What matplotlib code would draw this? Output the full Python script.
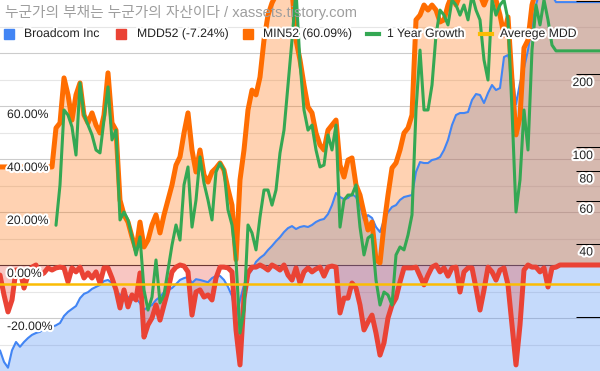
import numpy as np
import matplotlib
matplotlib.use("Agg")
import matplotlib.pyplot as plt
import matplotlib.patheffects as pe
from matplotlib.transforms import blended_transform_factory, offset_copy
from matplotlib.patches import Rectangle
from matplotlib.lines import Line2D
from matplotlib.ticker import NullLocator

nan = np.nan

title = "누군가의 부채는 누군가의 자산이다 / xassets.tistory.com"
series_names = ["Broadcom Inc", "MDD52 (-7.24%)", "MIN52 (60.09%)", "1 Year Growth", "Averege MDD"]

# Broadcom price (right, log axis)
broadcom = [
    14.5, 13.0, 12.3, 14.5, 15.7, 15.0, 15.7, 16.3, 16.8, 17.1,
    17.3, 17.9, 17.6, 18.1, 18.4, 18.8, 20.1, 20.9, 21.5, 22.1,
    23.8, 24.8, 25.2, 26.0, 26.5, 27.0, 28.0, 28.3, 27.5, 25.7,
    24.5, 25.0, 24.1, 23.4, 23.8, 22.7, 21.3, 21.9, 22.3, 23.4,
    24.1, 25.2, 25.7, 26.2, 27.2, 28.3, 28.8, 29.1, 27.5, 28.5,
    28.3, 28.0, 27.7, 28.8, 29.4, 29.4, 28.3, 26.5, 24.3, 19.7,
    23.4, 27.0, 29.7, 31.1, 33.6, 34.9, 35.9, 37.6, 39.1, 40.9,
    42.5, 44.6, 46.3, 47.2, 45.9, 46.8, 47.2, 46.8, 47.7, 49.1,
    50.0, 50.5, 52.9, 57.6, 64.6, 62.2, 61.0, 61.6, 64.0, 62.2,
    57.6, 50.0, 52.4, 51.0, 46.8, 44.6, 50.0, 53.9, 56.6, 57.6,
    60.5, 62.2, 62.8, 63.4, 78.9, 86.7, 85.9, 85.9, 88.4, 89.2,
    90.9, 97.2, 106.9, 123.2, 135.5, 138.1, 138.1, 139.4, 156.3, 165.4,
    163.9, 151.9, 167.0, 180.2, 171.8, 175.1, 235.1, 239.6, 207.7, 150.0,
    183.7, 211.7, 251.2, 318.7, 385.2, 444.0, 465.0, 444.0, 423.0, 396.0,
    396.0, 396.0, 396.0, 396.0, 396.0, 396.0, 396.0, 396.0, 396.0, 396.0,
    396.0,
]

# MDD52 (%)
mdd52 = [
    -3.8, -11.3, -17.7, -13.2, -1.9, -1.9, -8.7, -3.8, -0.8, 0.0,
    -3.8, -3.0, -1.1, -1.9, -1.1, -0.8, -1.1, -6.4, -1.1, -2.6,
    -0.8, -4.9, -3.0, -4.9, -2.6, -6.8, -1.1, -1.1, -4.9, -9.4,
    -16.2, -9.4, -15.8, -11.3, -13.2, -3.0, -27.2, -22.6, -20.0, -15.1,
    -20.8, -15.1, -9.4, -2.6, -0.8, 0.0, -0.4, -2.6, -18.9, -10.2,
    -9.4, -12.1, -11.3, -13.2, -4.9, -0.8, -0.8, -1.1, -2.6, -24.5,
    -37.7, -12.5, -3.0, -0.8, -0.8, 0.0, -0.8, -1.9, 0.0, -0.8,
    -1.9, 0.0, -3.8, -5.7, -1.1, -6.8, -2.6, -1.1, -2.6, -1.5,
    -0.8, -4.2, -0.8, -0.4, -0.8, -18.1, -12.5, -12.5, -6.8, -8.7,
    -15.1, -24.5, -21.5, -18.9, -25.7, -34.0, -29.4, -20.0, -15.1, -12.5,
    -6.4, -1.1, -1.1, -1.1, -0.8, -4.2, -7.5, -3.8, -0.8, 0.0,
    -2.6, -1.1, -4.2, -1.1, -0.8, -10.2, -2.6, -1.1, -1.1, -8.7,
    -17.0, -9.4, -0.8, -2.6, -5.7, -1.9, -1.1, -7.5, -22.6, -37.7,
    -22.6, -1.9, 0.0, -0.8, -0.8, -2.6, -1.1, -8.3, -1.1, -0.8,
    0.0, 0.0, 0.0, 0.0, 0.0, 0.0, 0.0, 0.0, 0.0, 0.0,
    0.0,
]

# MIN52 (%)
min52 = [
    37.0, 37.0, 37.0, 37.0, 37.0, 37.0, 37.0, 37.0, 37.0, 37.0,
    37.0, 37.0, 37.0, 37.0, 51.7, 53.6, 70.6, 64.2, 54.7, 64.2,
    68.7, 56.6, 53.6, 57.4, 52.8, 49.8, 56.6, 72.5, 53.6, 50.9,
    24.5, 18.9, 16.2, 10.6, 5.7, 16.2, 6.8, 9.4, 15.1, 18.9,
    12.1, 18.9, 24.5, 30.2, 37.7, 40.8, 49.8, 57.4, 43.4, 35.1,
    43.4, 34.0, 31.3, 35.1, 36.6, 38.5, 35.8, 28.7, 22.6, 2.0,
    32.1, 43.4, 58.5, 66.0, 64.2, 70.9, 84.9, 94.3, 98.9, 101.9,
    103.8, 105.7, 105.7, 103.8, 84.9, 77.4, 67.9, 59.6, 57.4, 49.8,
    45.3, 43.4, 50.9, 52.8, 54.7, 37.7, 33.2, 39.6, 40.4, 30.2,
    26.4, 19.6, 13.2, 16.2, 1.9, 0.8, 15.1, 26.4, 36.6, 38.5,
    43.4, 49.8, 51.7, 56.6, 92.5, 94.3, 98.1, 96.2, 98.1, 96.2,
    91.7, 92.5, 98.1, 101.9, 98.1, 101.9, 103.8, 103.8, 103.8, 103.8,
    101.9, 98.1, 101.9, 101.9, 100.0, 94.3, 86.8, 93.6, 69.8, 49.1,
    55.8, 81.9, 84.9, 98.1, 103.8, 107.5, 107.5, 107.5, 107.5, 107.5,
    107.5, 107.5, 107.5, 107.5, 107.5, 107.5, 107.5, 107.5, 107.5, 107.5,
    107.5,
]

# 1 Year Growth (%)
growth_1y = [
    nan, nan, nan, nan, nan, nan, nan, nan, nan, nan,
    nan, nan, nan, nan, 15.0, 30.2, 58.5, 56.6, 52.1, 41.5,
    68.7, 56.6, 52.8, 49.1, 43.4, 42.3, 54.7, 67.2, 47.2, 50.9,
    17.0, 20.0, 17.0, 10.6, 3.8, 10.6, -9.4, -17.0, -12.1, 1.9,
    -14.3, -11.3, -1.9, 7.5, 15.1, 9.4, 30.2, 37.0, 14.3, 24.5,
    40.8, 30.9, 24.5, 17.0, 35.1, 38.5, 35.8, 20.8, 15.1, 1.9,
    -25.7, -17.0, 15.1, 12.1, 5.7, 18.1, 28.3, 28.3, 22.6, 28.3,
    42.3, 50.9, 67.9, 84.9, 103.8, 76.2, 58.5, 50.9, 52.8, 43.4,
    37.0, 37.7, 49.1, 43.4, 52.8, 14.3, 24.5, 26.4, 26.4, 30.2,
    14.3, 3.8, 10.2, 11.3, -5.7, -15.1, -10.2, -11.3, -15.1, 3.8,
    6.8, 5.7, 11.3, 18.9, 58.5, 81.1, 58.5, 58.5, 67.9, 86.8,
    96.2, 94.3, 90.6, 100.0, 98.1, 94.3, 98.1, 92.5, 101.9, 96.2,
    92.5, 77.4, 69.8, 100.0, 94.3, 98.1, 100.0, 92.5, 58.5, 20.0,
    32.1, 58.5, 43.4, 81.1, 98.1, 90.6, 100.0, 92.5, 83.0, 80.8,
    80.8, 80.8, 80.8, 80.8, 80.8, 80.8, 80.8, 80.8, 80.8, 80.8,
    80.8,
]

avg_mdd = -7.2

pct_ticks = [60, 40, 20, 0, -20]
pct_labels = ["60.00%", "40.00%", "20.00%", "0.00%", "-20.00%"]
grid_values = [-30, -20, -10, 0, 10, 20, 30, 40, 50, 60, 70, 80, 90]
price_ticks = [20, 40, 60, 80, 100, 200, 400]
price_labels = ["", "40", "60", "80", "100", "200", ""]

BLUE, RED, ORANGE, GREEN, YELLOW = "#4285f4", "#ea4335", "#ff6d01", "#34a853", "#fbbc04"
colors = [BLUE, RED, ORANGE, GREEN, YELLOW]

W, H = 600, 371
fig = plt.figure(figsize=(W / 100, H / 100), dpi=100)
ax = fig.add_axes([0, 0, 1, 1])
axr = ax.twinx()
axr.set_yscale("log")
axr.set_ylim(11.92, 404)
ax.set_ylim(-40, 100)
ax.set_xlim(0, len(broadcom) - 1)

x = np.arange(len(broadcom))
halo = [pe.withStroke(linewidth=3, foreground="white")]

# grid
for g in grid_values:
    if g == 0:
        ax.axhline(g, color="#333333", lw=0.8, zorder=0.6)
    elif g % 20 == 0:
        ax.axhline(g, color="#cccccc", lw=0.8, zorder=0.5)
    else:
        ax.axhline(g, color="#e6e6e6", lw=0.8, zorder=0.5)

# areas
ax.fill_between(x, broadcom, 1.0, transform=axr.transData, facecolor=BLUE, alpha=0.3, lw=0, zorder=1)
ax.fill_between(x, mdd52, 0.0, facecolor=RED, alpha=0.3, lw=0, zorder=2)
ax.fill_between(x, min52, 0.0, facecolor=ORANGE, alpha=0.3, lw=0, zorder=3)

# lines
kw = dict(solid_joinstyle="round", solid_capstyle="round")
ax.plot(x, broadcom, transform=axr.transData, color=BLUE, lw=1.5, zorder=4, **kw)
ax.plot(x, mdd52, color=RED, lw=3.6, zorder=5, **kw)
ax.plot(x, min52, color=ORANGE, lw=3.6, zorder=6, **kw)
ax.plot(x, growth_1y, color=GREEN, lw=2.2, zorder=7, **kw)
ax.axhline(avg_mdd, color=YELLOW, lw=1.8, zorder=8)

ax.set_xlim(0, len(broadcom) - 1)
ax.set_ylim(-40, 100)
axr.set_ylim(11.92, 404)

for a in (ax, axr):
    for s in a.spines.values():
        s.set_visible(False)
ax.tick_params(left=False, labelleft=False, bottom=False, labelbottom=False)
axr.tick_params(axis="x", bottom=False, labelbottom=False)
axr.yaxis.set_minor_locator(NullLocator())
axr.set_yticks(price_ticks)
axr.tick_params(axis="y", which="major", direction="in", length=17.3, width=0.75,
                color="black", right=True, labelright=False)

# left labels (drawn in the twin axes so they sit above every series)
tl = offset_copy(blended_transform_factory(ax.transAxes, ax.transData), fig=fig, x=0, y=-9, units="dots")
for v, lab in zip(pct_ticks, pct_labels):
    axr.text(7 / W, v, lab, transform=tl, ha="left", va="center", fontsize=8.8,
             family="Liberation Sans", color="#222222", path_effects=halo, zorder=20)

# right labels
tr = offset_copy(blended_transform_factory(axr.transAxes, axr.transData), fig=fig, x=0, y=-9, units="dots")
for v, lab in zip(price_ticks, price_labels):
    if lab:
        axr.text(593 / W, v, lab, transform=tr, ha="right", va="center", fontsize=8.8,
                 family="Liberation Sans", color="#222222", path_effects=halo, zorder=20)

# title
fig.text(5 / W, 1 - 12 / H, title, ha="left", va="center", fontsize=10.6,
         family=["Liberation Sans", "Noto Sans CJK KR"], color="#9e9e9e", zorder=30)

# legend
ly = 1 - 34 / H
marker_x = [4, 116, 243, 367, 480]
text_x = [24, 137, 263, 387, 500]
for i, name in enumerate(series_names):
    if i < 3:
        fig.patches.append(Rectangle((marker_x[i] / W, ly - 5 / H), 10 / W, 10 / H,
                                     transform=fig.transFigure, color=colors[i], zorder=30))
    else:
        fig.lines.append(Line2D([marker_x[i] / W, (marker_x[i] + 12) / W], [ly, ly],
                                transform=fig.transFigure, color=colors[i], lw=3, zorder=30))
    fig.text(text_x[i] / W, ly, name, ha="left", va="center", fontsize=8.8,
             family="Liberation Sans", color="#222222", path_effects=halo, zorder=31)

fig.savefig("out.png", dpi=100)
